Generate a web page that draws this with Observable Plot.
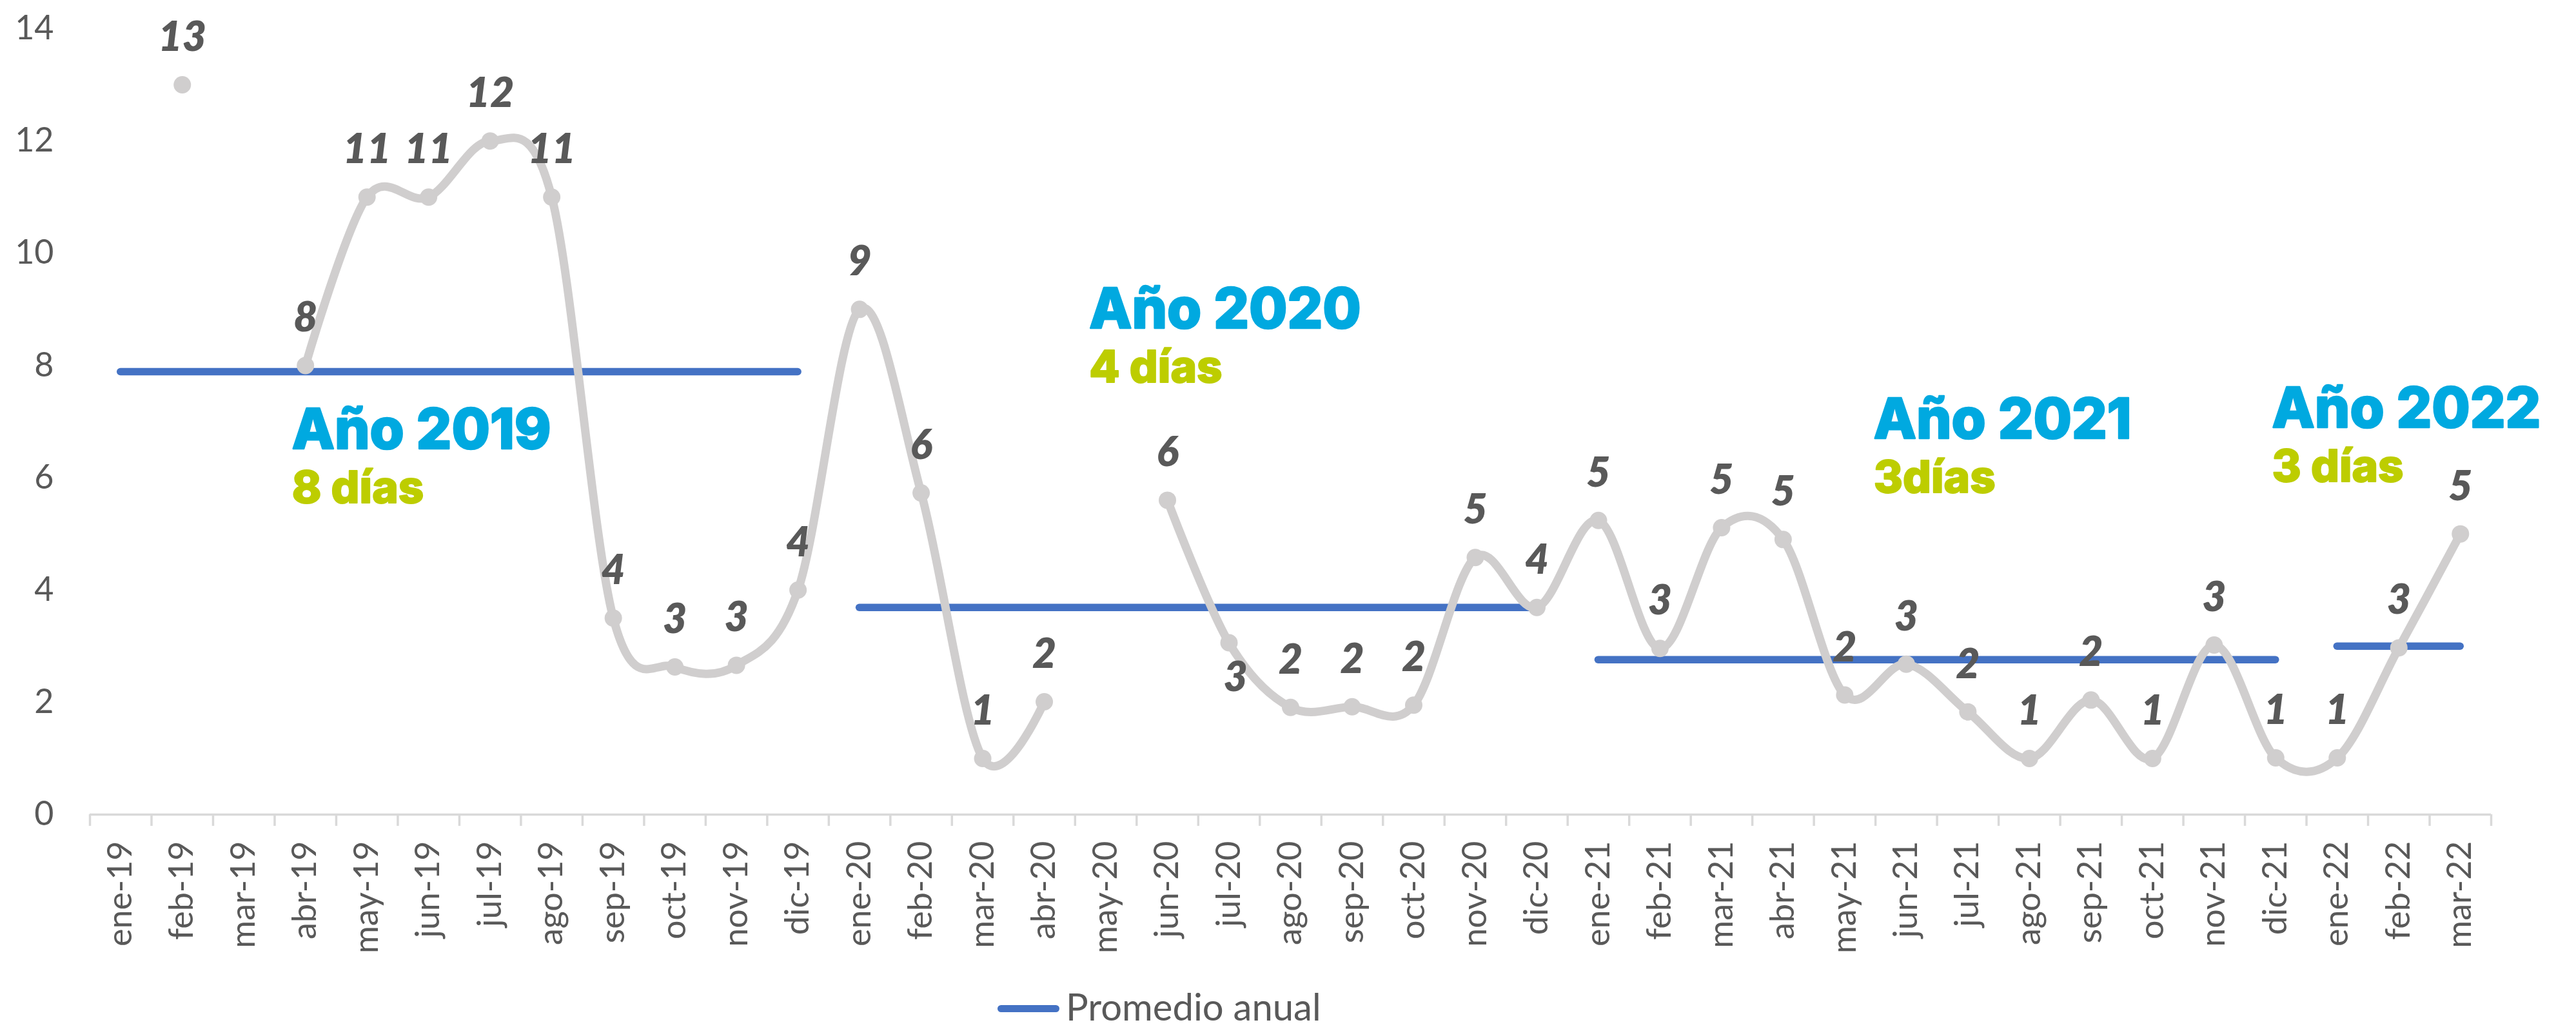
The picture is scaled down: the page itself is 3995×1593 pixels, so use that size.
<!DOCTYPE html>
<html>
<head>
<meta charset="utf-8">
<script src="https://cdn.jsdelivr.net/npm/d3@7"></script>
<script src="https://cdn.jsdelivr.net/npm/@observablehq/plot@0.6"></script>
<style>
  html, body { margin: 0; padding: 0; background: #ffffff; }
  #wrap { position: relative; width: 3995px; }
  #legend { position: relative; height: 73px; font-family: Lato, "Open Sans", sans-serif; color: #595959; }
  #legend .sw { position: absolute; left: 1547px; top: 39px; width: 96px; height: 11px; background: #4472C4; border-radius: 6px; }
  #legend .lt { position: absolute; left: 1653px; top: 12px; font-size: 58px; line-height: 1; white-space: nowrap; }
</style>
</head>
<body>
<div id="wrap">
  <div id="chart"></div>
  <div id="legend"><span class="sw"></span><span class="lt" id="legendText"></span></div>
</div>
<script>
// ---------- data ----------
const months = [
  "ene-19","feb-19","mar-19","abr-19","may-19","jun-19","jul-19","ago-19","sep-19","oct-19","nov-19","dic-19",
  "ene-20","feb-20","mar-20","abr-20","may-20","jun-20","jul-20","ago-20","sep-20","oct-20","nov-20","dic-20",
  "ene-21","feb-21","mar-21","abr-21","may-21","jun-21","jul-21","ago-21","sep-21","oct-21","nov-21","dic-21",
  "ene-22","feb-22","mar-22"
];
const values = [
  null, 13, null, 8, 11, 11, 12, 11, 3.5, 2.63, 2.66, 4.0,
  9.0, 5.73, 1.0, 2.01, null, 5.6, 3.06, 1.91, 1.92, 1.95, 4.58, 3.69,
  5.24, 2.96, 5.11, 4.9, 2.13, 2.68, 1.83, 1.0, 2.04, 1.0, 3.02, 1.01,
  1.01, 2.97, 5.0
];
const yearTitles = ["Año 2019", "Año 2020", "Año 2021", "Año 2022"];
const yearDays = ["8 días", "4 días", "3días", "3 días"];
const yearAverages = [7.89, 3.69, 2.76, 3.0];
const yearFirstMonth = ["ene-19", "ene-20", "ene-21", "ene-22"];
const yearLastMonth = ["dic-19", "dic-20", "dic-21", "mar-22"];
const yTicks = [0, 2, 4, 6, 8, 10, 12, 14];
const labelsBelow = ["jul-20"];
const legendLabel = "Promedio anual";
// annotation anchors in chart units: [month position, days]
const annotationAnchors = [[3.28, 6.52], [16.23, 8.67], [28.97, 6.70], [35.44, 6.90]];

// ---------- derived tables ----------
const pts = months.map((m, i) => ({m, x: i + 0.5, v: values[i]}));
const valid = pts.filter(d => d.v != null);
const above = valid.filter(d => !labelsBelow.includes(d.m));
const below = valid.filter(d => labelsBelow.includes(d.m));
const avgRows = yearTitles.map((t, k) => ({
  x1: months.indexOf(yearFirstMonth[k]) + 0.5,
  x2: months.indexOf(yearLastMonth[k]) + 0.5,
  y: yearAverages[k]
}));
const ann = yearTitles.map((t, k) => ({t, d: yearDays[k], x: annotationAnchors[k][0], y: annotationAnchors[k][1]}));

const W = 3995, H = 1520;
const GRAY = "#D0CECE", TXT = "#595959";
const BLUE_TXT = "#00A9E0", GREEN_TXT = "#BDCD00";

const chart = Plot.plot({
  width: W, height: H,
  marginLeft: 139, marginRight: 132, marginTop: 44, marginBottom: 257,
  x: {type: "linear", domain: [0, months.length]},
  y: {domain: [0, 14]},
  style: {fontFamily: "Lato, 'Open Sans', sans-serif", background: "#ffffff", overflow: "visible"},
  marks: [
    Plot.axisY({ticks: yTicks, tickSize: 0, tickPadding: 56, fontSize: 52, fill: TXT, label: null}),
    Plot.ruleY([0], {stroke: "#D9D9D9", strokeWidth: 3.5}),
    Plot.axisX({ticks: d3.range(months.length + 1), tickSize: 18, tickFormat: () => "", stroke: "#D9D9D9", strokeWidth: 3.5, label: null}),
    Plot.axisX({ticks: months.map((m, i) => i + 0.5), tickSize: 0, tickPadding: 41, tickRotate: -90,
      tickFormat: d => months[Math.floor(d)], fontSize: 52, fill: TXT, label: null}),
    Plot.ruleY(avgRows, {x1: "x1", x2: "x2", y: "y", stroke: "#4472C4", strokeWidth: 11.5, strokeLinecap: "round"}),
    Plot.line(pts, {x: "x", y: "v", curve: "cardinal", stroke: GRAY, strokeWidth: 13, strokeLinejoin: "round", strokeLinecap: "round"}),
    Plot.dot(valid, {x: "x", y: "v", r: 13.5, fill: GRAY, stroke: null}),
    Plot.text(above, {x: "x", y: "v", text: d => String(Math.round(d.v)), dy: -73, fontSize: 64, fontWeight: 800, fontStyle: "italic", fill: TXT}),
    Plot.text(below, {x: "x", y: "v", text: d => String(Math.round(d.v)), dy: 54, dx: 10, fontSize: 64, fontWeight: 800, fontStyle: "italic", fill: TXT}),
    Plot.text(ann, {x: "x", y: "y", text: "t", textAnchor: "start", lineAnchor: "bottom", fontSize: 86, fontWeight: 800,
      fontFamily: "Inter, sans-serif", fill: BLUE_TXT, stroke: BLUE_TXT, strokeWidth: 2.5}),
    Plot.text(ann, {x: "x", y: "y", text: "d", dy: 84, textAnchor: "start", lineAnchor: "bottom", fontSize: 69, fontWeight: 800,
      fontFamily: "Inter, sans-serif", fill: GREEN_TXT, stroke: GREEN_TXT, strokeWidth: 2})
  ]
});
document.getElementById("chart").appendChild(chart);
document.getElementById("legendText").textContent = legendLabel;
</script>
</body>
</html>
